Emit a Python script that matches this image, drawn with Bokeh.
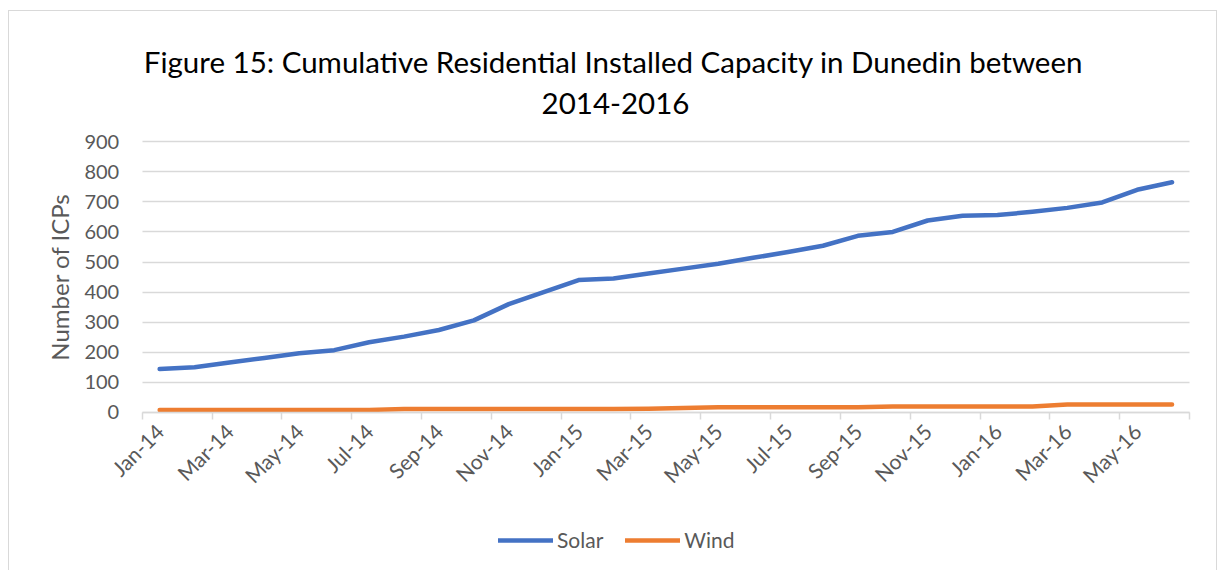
import math
from bokeh.plotting import figure
from bokeh.models import Range1d, FixedTicker, Label, Legend, LegendItem, ColumnDataSource
from bokeh.embed import file_html
from bokeh.resources import INLINE

months = ["Jan-14", "Feb-14", "Mar-14", "Apr-14", "May-14", "Jun-14", "Jul-14", "Aug-14",
          "Sep-14", "Oct-14", "Nov-14", "Dec-14", "Jan-15", "Feb-15", "Mar-15", "Apr-15",
          "May-15", "Jun-15", "Jul-15", "Aug-15", "Sep-15", "Oct-15", "Nov-15", "Dec-15",
          "Jan-16", "Feb-16", "Mar-16", "Apr-16", "May-16", "Jun-16"]
solar = [144, 150, 166, 181, 197, 207, 233, 252, 274, 306, 360, 400, 440, 445, 462,
         478, 494, 514, 533, 554, 587, 600, 638, 654, 656, 667, 680, 698, 740, 765]
wind = [8, 8, 8, 8, 8, 8, 8, 11, 11, 11, 11, 11, 11, 11, 12,
        15, 17, 17, 17, 17, 17, 20, 20, 20, 20, 20, 26, 26, 26, 26]
y_ticks = [0, 100, 200, 300, 400, 500, 600, 700, 800, 900]
title_lines = ["Figure 15: Cumulative Residential Installed Capacity in Dunedin between",
               "2014-2016"]
y_label = "Number of ICPs"
series_names = ["Solar", "Wind"]
series_colors = ["#4472C4", "#ED7D31"]

FONT = "Lato"
GREY = "#595959"
GRID = "#d9d9d9"

# ---- layout (canvas pixels) ----
W, H = 1209, 560
PLOT_L, PLOT_R, PLOT_T, PLOT_B = 132.7, 1180.0, 130.2, 400.9
n = len(months)
ymax = y_ticks[-1]
ppx = (PLOT_R - PLOT_L) / n
ppy = (PLOT_B - PLOT_T) / ymax
x_start = -0.5 - PLOT_L / ppx
x_end = n - 0.5 + (W - PLOT_R) / ppx
y_start = -(H - PLOT_B) / ppy
y_end = ymax + PLOT_T / ppy

xs = list(range(n))
src = ColumnDataSource(dict(x=xs, month=months, solar=solar, wind=wind))

p = figure(width=W, height=H, output_backend="svg", toolbar_location=None, title=None,
           x_range=Range1d(x_start, x_end), y_range=Range1d(y_start, y_end),
           min_border_left=0, min_border_right=0, min_border_top=0, min_border_bottom=0)
p.outline_line_color = None
p.background_fill_color = "white"
p.border_fill_color = "white"
p.styles = {"margin-left": "8px", "margin-top": "10px",
            "border-top": "1px solid #d9d9d9", "border-left": "1px solid #d9d9d9",
            "border-right": "1px solid #d9d9d9"}

r1 = p.line("x", "solar", source=src, line_color=series_colors[0], line_width=4.5,
            line_cap="round", line_join="round")
r2 = p.line("x", "wind", source=src, line_color=series_colors[1], line_width=4.5,
            line_cap="round", line_join="round")

p.xgrid.visible = False
p.ygrid.grid_line_color = GRID
p.ygrid.grid_line_width = 1.3
p.ygrid.bounds = (0, ymax)
p.ygrid.cross_bounds = (-0.5, n - 0.5)

# y axis
p.yaxis.fixed_location = -0.5
p.yaxis.bounds = (0, ymax)
p.yaxis.ticker = FixedTicker(ticks=y_ticks)
p.yaxis.axis_line_color = None
p.yaxis.major_tick_line_color = None
p.yaxis.minor_tick_line_color = None
p.yaxis.major_tick_out = 0
p.yaxis.major_label_standoff = 23
p.yaxis.major_label_text_font = FONT
p.yaxis.major_label_text_font_size = "20px"
p.yaxis.major_label_text_color = GREY
p.yaxis.axis_label = y_label
p.yaxis.axis_label_text_font = FONT
p.yaxis.axis_label_text_font_style = "normal"
p.yaxis.axis_label_text_font_size = "24px"
p.yaxis.axis_label_text_color = GREY
p.yaxis.axis_label_standoff = 8

# x axis
label_idx = xs[::2]
p.xaxis.fixed_location = 0
p.xaxis.bounds = (-0.5, n - 0.5)
p.xaxis.ticker = FixedTicker(ticks=label_idx,
                             minor_ticks=[i - 0.5 for i in range(0, n + 1, 2)])
p.xaxis.major_label_overrides = {i: months[i] for i in label_idx}
p.xaxis.major_label_orientation = math.pi / 4
p.xaxis.major_tick_line_color = None
p.xaxis.major_tick_out = 0
p.xaxis.minor_tick_line_color = GRID
p.xaxis.minor_tick_line_width = 1.5
p.xaxis.minor_tick_out = 7
p.xaxis.minor_tick_in = 0
p.xaxis.axis_line_color = GRID
p.xaxis.axis_line_width = 1.5
p.xaxis.major_label_standoff = 8
p.xaxis.major_label_text_font = FONT
p.xaxis.major_label_text_font_size = "21px"
p.xaxis.major_label_text_color = GREY

# two-line title
p.add_layout(Label(x=604, y=510, x_units="screen", y_units="screen", text=title_lines[0],
                   text_align="center", text_baseline="alphabetic", text_font=FONT,
                   text_font_size="29.5px", text_color="black"))
p.add_layout(Label(x=606, y=468, x_units="screen", y_units="screen", text=title_lines[1],
                   text_align="center", text_baseline="alphabetic", text_font=FONT,
                   text_font_size="29.5px", text_color="black"))

legend = Legend(items=[LegendItem(label=series_names[0], renderers=[r1]),
                       LegendItem(label=series_names[1], renderers=[r2])],
                orientation="horizontal", location=(489, 19), glyph_width=55,
                glyph_height=24, label_standoff=4, spacing=22, padding=0, margin=0,
                border_line_color=None, background_fill_alpha=0,
                label_text_font=FONT, label_text_font_size="21px", label_text_color=GREY)
p.add_layout(legend)

open("out.html", "w").write(file_html(p, INLINE))
